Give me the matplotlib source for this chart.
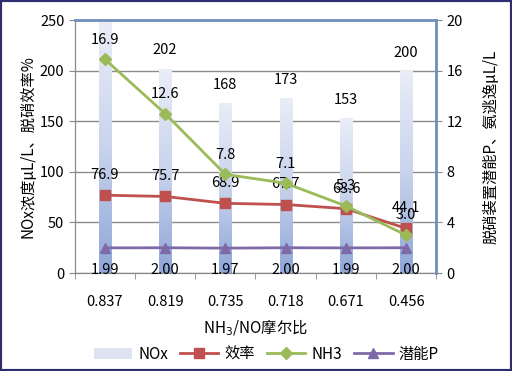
import numpy as np
import matplotlib.pyplot as plt
from matplotlib.patches import Rectangle
from matplotlib.lines import Line2D
from matplotlib.colors import LinearSegmentedColormap

plt.rcParams['font.family'] = ['Noto Sans CJK SC', 'DejaVu Sans']

ratios = ['0.837', '0.819', '0.735', '0.718', '0.671', '0.456']
nox = [248, 202, 168, 173, 153, 200]
efficiency = [76.9, 75.7, 68.9, 67.7, 63.6, 44.1]
nh3 = [16.9, 12.6, 7.8, 7.1, 5.3, 3.0]
potential = [1.99, 2.00, 1.97, 2.00, 1.99, 2.00]
nox_labels = ['', '202', '168', '173', '153', '200']

fig = plt.figure(figsize=(5.12, 3.71), dpi=100)
ax = fig.add_axes([0.146, 0.264, 0.706, 0.682])
ax2 = ax.twinx()

x = np.arange(len(ratios))

# bars with vertical gradient
bars = ax.bar(x, nox, width=0.2, color='none', edgecolor='none', zorder=2)
grad = np.linspace(0, 1, 256).reshape(-1, 1)
cm = LinearSegmentedColormap.from_list('g', ['#8ea6d8', '#c9d3ec', '#e9edf7'])
for b in bars:
    im = ax.imshow(grad, cmap=cm, aspect='auto', origin='lower',
                   extent=[b.get_x(), b.get_x() + b.get_width(), 0, b.get_height()],
                   zorder=2)
    im.set_clip_path(b)
for xi, v, lab in zip(x, nox, nox_labels):
    ax.text(xi, v + 11, lab, ha='center', va='bottom', fontsize=10.5, zorder=6)

ax.plot(x, efficiency, color='#c0504d', marker='s', markersize=7, lw=2, zorder=4)
for xi, v in zip(x, efficiency):
    ax.text(xi, v + 13, f'{v:.1f}', ha='center', va='bottom', fontsize=10.5, zorder=6)

ax2.plot(x, nh3, color='#9bbb59', marker='D', markersize=6, lw=2, zorder=4)
for xi, v in zip(x, nh3):
    ax2.text(xi, v + 1.0, f'{v:.1f}', ha='center', va='bottom', fontsize=10.5, zorder=6)

ax2.plot(x, potential, color='#7f6aa8', marker='^', markersize=7, lw=2, zorder=4)
for xi, v in zip(x, potential):
    ax2.text(xi, v - 1.2, f'{v:.2f}', ha='center', va='top', fontsize=10.5, zorder=6)

ax.set_xlim(-0.5, len(ratios) - 0.5)
ax.set_ylim(0, 250)
ax.set_yticks([0, 50, 100, 150, 200, 250])
ax2.set_ylim(0, 20)
ax2.set_yticks([0, 4, 8, 12, 16, 20])
ax.set_xticks(x)
ax.set_xticklabels(ratios)
ax.set_xticks(np.arange(-0.5, len(ratios)), minor=True)
ax.tick_params(axis='x', which='major', length=0, pad=16, labelsize=10.5)
ax.tick_params(axis='x', which='minor', length=4, color='#888888')
ax.tick_params(axis='y', length=4, labelsize=10.5, color='#888888')
ax2.tick_params(axis='y', length=4, labelsize=10.5, color='#888888')
ax.grid(axis='y', color='#8c8c8c', lw=1)
ax.set_axisbelow(True)

for s in ['left', 'bottom']:
    ax.spines[s].set_color('#8a8a8a')
for s in ['top', 'right']:
    ax2.spines[s].set_color('#6f8fbf')
    ax2.spines[s].set_linewidth(2)
ax2.spines['left'].set_color('#8a8a8a')
ax2.spines['bottom'].set_color('#8a8a8a')

ax.set_xlabel('NH$_3$/NO摩尔比', fontsize=11, labelpad=6)
ax.set_ylabel('NOx浓度μL/L、脱硝效率%', fontsize=11, labelpad=2)
ax2.set_ylabel('脱硝装置潜能P、氨逃逸μL/L', fontsize=11, rotation=90, labelpad=14)

handles = [
    Rectangle((0, 0), 1, 1, facecolor='#dde3f1', edgecolor='none'),
    Line2D([], [], color='#c0504d', marker='s', markersize=7, lw=2),
    Line2D([], [], color='#9bbb59', marker='D', markersize=6, lw=2),
    Line2D([], [], color='#7f6aa8', marker='^', markersize=7, lw=2),
]
fig.legend(handles, ['NOx', '效率', 'NH3', '潜能P'], loc='lower center',
           bbox_to_anchor=(0.52, -0.015), ncol=4, frameon=False, fontsize=11,
           handlelength=2.5, columnspacing=0.8, handletextpad=0.4)

fig.patches.append(Rectangle((0, 0), 1, 1, transform=fig.transFigure, fill=False,
                             edgecolor='#2e2e6e', lw=3))

fig.savefig('out.png', dpi=100)
